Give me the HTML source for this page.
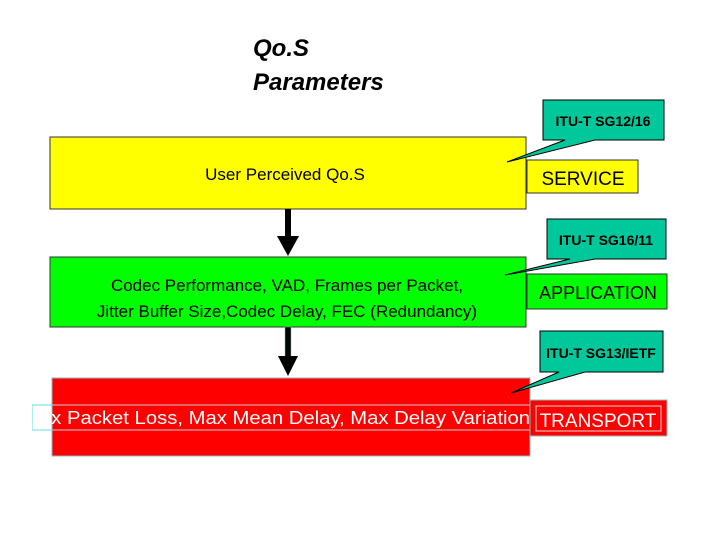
<!DOCTYPE html>
<html><head><style>body{margin:0;background:#fff}svg{display:block}</style></head><body>
<svg width="720" height="540" viewBox="0 0 720 540" xmlns="http://www.w3.org/2000/svg" font-family="Liberation Sans, Arial, sans-serif">
<rect width="720" height="540" fill="#fff"/>
<text x="253" y="56" font-size="24" font-weight="bold" font-style="italic">Qo.S</text>
<text x="253" y="90" font-size="24" font-weight="bold" font-style="italic">Parameters</text>

<!-- Service -->
<rect x="50" y="137" width="476" height="72" fill="#ffff00" stroke="#333" stroke-width="1"/>
<text x="285" y="180" font-size="17" text-anchor="middle">User Perceived Qo.S</text>
<rect x="527" y="160" width="111" height="33" fill="#ffff00" stroke="#333" stroke-width="1"/>
<text x="583" y="185" font-size="19" text-anchor="middle">SERVICE</text>
<polygon points="543,100 664,100 664,140 595,140 507,162 565,140 543,140" fill="#00c89a" stroke="#000" stroke-width="1"/>
<text x="603" y="126" font-size="14" font-weight="bold" text-anchor="middle">ITU-T SG12/16</text>

<!-- arrow 1 -->
<rect x="285" y="209" width="6" height="28" fill="#000"/>
<polygon points="277,236 299,236 288,256" fill="#000"/>

<!-- Application -->
<rect x="50" y="257" width="476" height="70" fill="#00ff00" stroke="#333" stroke-width="1"/>
<text x="287" y="291" font-size="17" text-anchor="middle">Codec Performance, VAD, Frames per Packet,</text>
<text x="287" y="317" font-size="17" text-anchor="middle">Jitter Buffer Size,Codec Delay, FEC (Redundancy)</text>
<rect x="527" y="274" width="140" height="35" fill="#00ff00" stroke="#333" stroke-width="1"/>
<text x="598" y="299" font-size="18" text-anchor="middle">APPLICATION</text>
<polygon points="547,219 666,219 666,259 595,259 505,275 570,259 547,259" fill="#00c89a" stroke="#000" stroke-width="1"/>
<text x="606" y="245" font-size="14" font-weight="bold" text-anchor="middle">ITU-T SG16/11</text>

<!-- arrow 2 -->
<rect x="285" y="327" width="6" height="30" fill="#000" stroke="#7cc" stroke-width="0.5"/>
<polygon points="278,356 298,356 288,376" fill="#000"/>

<!-- Transport -->
<rect x="52" y="378" width="478" height="78" fill="#ff0000" stroke="#8bb" stroke-width="1"/>
<rect x="52" y="405" width="478" height="25" fill="none" stroke="#ccc" stroke-width="1"/>
<rect x="32" y="405" width="20" height="25" fill="#fff" stroke="#6dd" stroke-width="1"/>
<text x="40" y="424" font-size="18" fill="#fff" textLength="490" lengthAdjust="spacingAndGlyphs">ax Packet Loss, Max Mean Delay, Max Delay Variation</text>
<rect x="52" y="405" width="0" height="0"/>
<rect x="530" y="400" width="137" height="36" fill="#ff0000" stroke="#8bb" stroke-width="1"/>
<rect x="536" y="406" width="125" height="25" fill="none" stroke="#ddd" stroke-width="1"/>
<text x="598" y="427" font-size="19" fill="#fff" text-anchor="middle">TRANSPORT</text>
<polygon points="540,331 663,331 663,372 585,372 511,393 559,372 540,372" fill="#00c89a" stroke="#000" stroke-width="1"/>
<text x="601" y="358" font-size="14" font-weight="bold" text-anchor="middle">ITU-T SG13/IETF</text>
<rect x="0" y="400" width="32" height="40" fill="#fff"/>
</svg>
</body></html>
